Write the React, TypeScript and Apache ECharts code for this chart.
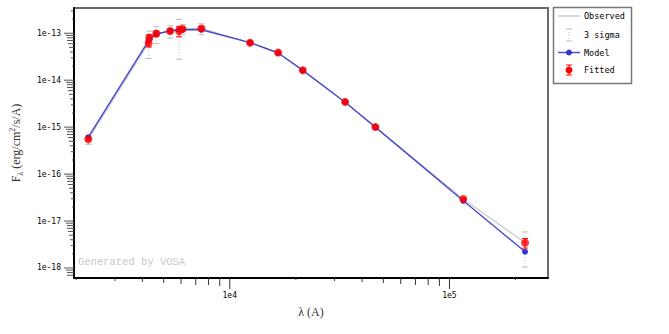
import React, { useEffect, useRef } from 'react';
import * as echarts from 'echarts';

// ---- data ----
const wavelengths = [2270, 4272, 4303, 4627, 5350, 5875, 6097, 7428, 12370, 16600, 21500, 33500, 46000, 115600, 220900];
const observedFlux = [5.5e-16, 6.2e-14, 8.1e-14, 9.9e-14, 1.12e-13, 1.12e-13, 1.23e-13, 1.26e-13, 6.3e-14, 3.88e-14, 1.63e-14, 3.45e-15, 1.01e-15, 2.94e-17, 3.45e-18];
const fluxError = [0.4e-16, 1.1e-14, 1.0e-14, 1.3e-14, 1.1e-14, 2.8e-14, 1.0e-14, 1.1e-14, 1.5e-15, 0.9e-15, 0.4e-15, 0.7e-16, 0.2e-16, 0.8e-18, 0.8e-18];
const modelFlux = [6.1e-16, 7.0e-14, 7.5e-14, 9.5e-14, 1.13e-13, 1.19e-13, 1.2e-13, 1.19e-13, 6.3e-14, 3.8e-14, 1.62e-14, 3.4e-15, 1.0e-15, 2.7e-17, 2.22e-18];

// ---- axes ----
const X_MIN = 1954;
const X_MAX = 280900;
const Y_MIN = 6.12e-19;
const Y_MAX = 3.45e-13;
const xMajorTicks = [1e4, 1e5];
const xTickLabels = ['1e4', '1e5'];
const xMinorTicks = [2000, 3000, 4000, 5000, 6000, 7000, 8000, 9000, 20000, 30000, 40000, 50000, 60000, 70000, 80000, 90000, 200000];
const yMajorTicks = [1e-13, 1e-14, 1e-15, 1e-16, 1e-17, 1e-18];
const yTickLabels = ['1e-13', '1e-14', '1e-15', '1e-16', '1e-17', '1e-18'];
const yMinorMantissas = [2, 3, 4, 5, 6, 7, 8, 9];
const yMinorExponents = [-13, -14, -15, -16, -17, -18, -19];
const minorTickLength: Record<number, number> = { 2: 2, 3: 3, 4: 4, 5: 5, 6: 6, 7: 7, 8: 7, 9: 8 };
const MAJOR_LEN = 10;

const yMinorTicks: number[] = [];
yMinorExponents.forEach((e) =>
  yMinorMantissas.forEach((m) => {
    const v = m * Math.pow(10, e);
    if (v > Y_MIN && v < Y_MAX) yMinorTicks.push(v);
  })
);
const mantissa = (v: number) => Math.round(v / Math.pow(10, Math.floor(Math.log10(v) + 1e-9)));

const MONO = 'DejaVu Sans Mono';
const SERIF = 'Liberation Serif';

export default function App() {
  const ref = useRef<HTMLDivElement>(null);
  useEffect(() => {
    if (!ref.current) return;
    const chart = echarts.init(ref.current, null, { renderer: 'svg' });

    const obsData = wavelengths.map((w, i) => [w, observedFlux[i]]);
    const modelData = wavelengths.map((w, i) => [w, modelFlux[i]]);
    const errData = (k: number) =>
      wavelengths.map((w, i) => [w, Math.max(observedFlux[i] - k * fluxError[i], Y_MIN * 0.5), observedFlux[i] + k * fluxError[i]]);

    const errRender = (color: string, dash: number[] | null) => (params: any, api: any) => {
      const x = api.value(0);
      const pl = api.coord([x, api.value(1)]);
      const ph = api.coord([x, api.value(2)]);
      const st: any = { stroke: color, lineWidth: 1 };
      const vst: any = dash ? { ...st, lineDash: dash } : st;
      return {
        type: 'group',
        children: [
          { type: 'line', shape: { x1: pl[0], y1: pl[1], x2: ph[0], y2: ph[1] }, style: vst },
          { type: 'line', shape: { x1: pl[0] - 3, y1: pl[1], x2: pl[0] + 3, y2: pl[1] }, style: st },
          { type: 'line', shape: { x1: ph[0] - 3, y1: ph[1], x2: ph[0] + 3, y2: ph[1] }, style: st },
        ],
      };
    };

    const xTickData = [
      ...xMinorTicks.map((v) => [v, Y_MAX, minorTickLength[mantissa(v)]]),
      ...xMajorTicks.map((v) => [v, Y_MAX, MAJOR_LEN + 1]),
    ];
    const yTickData = [
      ...yMinorTicks.map((v) => [X_MAX, v, minorTickLength[mantissa(v)]]),
      ...yMajorTicks.map((v) => [X_MAX, v, MAJOR_LEN]),
    ];

    const option: any = {
      animation: false,
      backgroundColor: '#fff',
      grid: { left: 69, right: 121, top: 8, bottom: 56, show: true, borderColor: '#6a6a6a', borderWidth: 2, backgroundColor: 'transparent' },
      xAxis: {
        type: 'log', logBase: 10, min: X_MIN, max: X_MAX,
        axisLine: { show: true, lineStyle: { color: '#000', width: 2 } },
        axisTick: { show: false }, axisLabel: { show: false }, splitLine: { show: false }, minorTick: { show: false },
        name: 'λ (A)', nameLocation: 'middle', nameGap: 28,
        nameTextStyle: { fontFamily: SERIF, fontSize: 12, color: '#333' },
      },
      yAxis: {
        type: 'log', logBase: 10, min: Y_MIN, max: Y_MAX,
        axisLine: { show: true, lineStyle: { color: '#000', width: 2 } },
        axisTick: { show: false }, axisLabel: { show: false }, splitLine: { show: false }, minorTick: { show: false },
        name: '{a|F}{s|λ}{a| (erg/cm}{p|2}{a|/s/A)}', nameLocation: 'middle', nameGap: 50, nameRotate: 90,
        nameTextStyle: {
          rich: {
            a: { fontFamily: SERIF, fontSize: 12, color: '#333', lineHeight: 16 },
            s: { fontFamily: SERIF, fontSize: 8, color: '#333', verticalAlign: 'bottom', lineHeight: 16 },
            p: { fontFamily: SERIF, fontSize: 8, color: '#333', verticalAlign: 'top', lineHeight: 16 },
          },
        },
      },
      series: [
        { name: '3 sigma', type: 'custom', data: errData(3), encode: { x: 0, y: [1, 2] }, renderItem: errRender('#bdbdbd', [1, 2]), z: 2 },
        { name: 'Observed', type: 'line', data: obsData, symbol: 'none', lineStyle: { color: '#b4b4b4', width: 1 }, z: 3 },
        { name: 'Model', type: 'line', data: modelData, symbol: 'circle', symbolSize: 6, itemStyle: { color: '#3636c8' }, lineStyle: { color: '#4848d0', width: 1.4 }, z: 4 },
        { name: 'FittedErr', type: 'custom', data: errData(1), encode: { x: 0, y: [1, 2] }, renderItem: errRender('#ff0000', null), z: 5 },
        { name: 'Fitted', type: 'scatter', data: obsData, symbol: 'circle', symbolSize: 8, itemStyle: { color: '#ff0000' }, z: 6 },
        {
          name: 'xticks', type: 'custom', clip: false, silent: true, data: xTickData, encode: { x: 0, y: 1 }, z: 7,
          renderItem: (params: any, api: any) => {
            const cs = params.coordSys;
            const p = api.coord([api.value(0), api.value(1)]);
            const yb = cs.y + cs.height;
            return { type: 'line', shape: { x1: p[0], y1: yb, x2: p[0], y2: yb + api.value(2) }, style: { stroke: '#333', lineWidth: 1 } };
          },
        },
        {
          name: 'yticks', type: 'custom', clip: false, silent: true, data: yTickData, encode: { x: 0, y: 1 }, z: 7,
          renderItem: (params: any, api: any) => {
            const cs = params.coordSys;
            const p = api.coord([api.value(0), api.value(1)]);
            return { type: 'line', shape: { x1: cs.x - api.value(2), y1: p[1], x2: cs.x, y2: p[1] }, style: { stroke: '#555', lineWidth: 1 } };
          },
        },
        {
          name: 'xlabels', type: 'custom', clip: false, silent: true, data: xMajorTicks.map((v) => [v, Y_MAX]), encode: { x: 0, y: 1 }, z: 7,
          renderItem: (params: any, api: any) => {
            const cs = params.coordSys;
            const p = api.coord([api.value(0), api.value(1)]);
            return { type: 'text', x: p[0], y: cs.y + cs.height + 17, style: { text: xTickLabels[params.dataIndex], fill: '#000', fontFamily: MONO, fontSize: 8, align: 'center', verticalAlign: 'middle' } };
          },
        },
        {
          name: 'ylabels', type: 'custom', clip: false, silent: true, data: yMajorTicks.map((v) => [X_MAX, v]), encode: { x: 0, y: 1 }, z: 7,
          renderItem: (params: any, api: any) => {
            const cs = params.coordSys;
            const p = api.coord([api.value(0), api.value(1)]);
            return { type: 'text', x: cs.x - 13, y: p[1], style: { text: yTickLabels[params.dataIndex], fill: '#000', fontFamily: MONO, fontSize: 8, align: 'right', verticalAlign: 'middle' } };
          },
        },
      ],
      graphic: [
        { type: 'text', left: 78, top: 256, style: { text: 'Generated by VOSA', fill: '#c8c8c8', fontFamily: 'Liberation Mono', fontSize: 10.5 }, z: 1 },
        {
          type: 'group', x: 0, y: 0, z: 10,
          children: [
            { type: 'rect', shape: { x: 553.5, y: 7.5, width: 78, height: 76 }, style: { fill: '#fff', stroke: '#777', lineWidth: 1.5 } },
            { type: 'line', shape: { x1: 558, y1: 16, x2: 580, y2: 16 }, style: { stroke: '#b4b4b4', lineWidth: 1 } },
            { type: 'text', x: 584, y: 16, style: { text: 'Observed', fill: '#000', fontFamily: MONO, fontSize: 8.5, verticalAlign: 'middle' } },
            { type: 'line', shape: { x1: 569, y1: 29, x2: 569, y2: 41 }, style: { stroke: '#bdbdbd', lineWidth: 1, lineDash: [1, 2] } },
            { type: 'line', shape: { x1: 566, y1: 29, x2: 572, y2: 29 }, style: { stroke: '#bdbdbd', lineWidth: 1 } },
            { type: 'line', shape: { x1: 566, y1: 41, x2: 572, y2: 41 }, style: { stroke: '#bdbdbd', lineWidth: 1 } },
            { type: 'text', x: 584, y: 35, style: { text: '3 sigma', fill: '#000', fontFamily: MONO, fontSize: 8.5, verticalAlign: 'middle' } },
            { type: 'line', shape: { x1: 558, y1: 52.5, x2: 580, y2: 52.5 }, style: { stroke: '#4848d0', lineWidth: 1.4 } },
            { type: 'circle', shape: { cx: 569, cy: 52.5, r: 3 }, style: { fill: '#3636c8' } },
            { type: 'text', x: 584, y: 52.5, style: { text: 'Model', fill: '#000', fontFamily: MONO, fontSize: 8.5, verticalAlign: 'middle' } },
            { type: 'line', shape: { x1: 569, y1: 65, x2: 569, y2: 75 }, style: { stroke: '#ff0000', lineWidth: 1 } },
            { type: 'line', shape: { x1: 566, y1: 65, x2: 572, y2: 65 }, style: { stroke: '#ff0000', lineWidth: 1 } },
            { type: 'line', shape: { x1: 566, y1: 75, x2: 572, y2: 75 }, style: { stroke: '#ff0000', lineWidth: 1 } },
            { type: 'circle', shape: { cx: 569, cy: 70, r: 3.5 }, style: { fill: '#ff0000' } },
            { type: 'text', x: 584, y: 70, style: { text: 'Fitted', fill: '#000', fontFamily: MONO, fontSize: 8.5, verticalAlign: 'middle' } },
          ],
        },
      ],
    };
    chart.setOption(option);
    return () => chart.dispose();
  }, []);
  return <div ref={ref} style={{ position: 'fixed', left: 0, top: 0, width: 669, height: 334, background: '#fff' }} />;
}
